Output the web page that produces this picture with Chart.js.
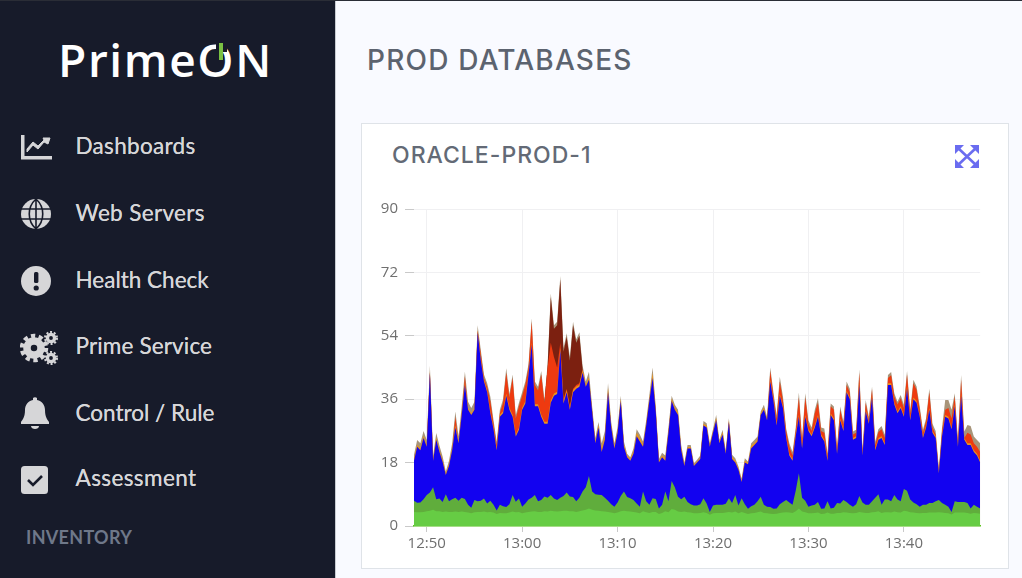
<!DOCTYPE html>
<html><head><meta charset="utf-8">
<script src="https://cdn.jsdelivr.net/npm/chart.js@4/dist/chart.umd.min.js"></script>
<style>
html,body{margin:0;padding:0;width:1022px;height:578px;overflow:hidden;background:#f9faff}
#root{position:absolute;left:0;top:0;width:1022px;height:578px;overflow:hidden;background:#f9faff;filter:blur(.45px)}
#top{position:absolute;left:0;top:0;width:1022px;height:1px;background:#2a2d36;z-index:5}
#side{position:absolute;left:0;top:0;width:336px;height:578px;background:#171b2a;border-right:1px solid #c8ccd2;box-sizing:border-box}
#logo{position:absolute;left:58px;top:29px;font:600 46px "Open Sans",sans-serif;color:#fff;letter-spacing:1.6px;line-height:60px;white-space:nowrap}
#notch{position:absolute;left:215.5px;top:38px;width:11px;height:14px;background:#171b2a}
#bar{position:absolute;left:218.5px;top:43px;width:4.5px;height:17px;background:#7ac143}
.it{position:absolute;left:75.5px;font:400 22.5px Lato,sans-serif;color:#d6d6d8;line-height:30px;white-space:nowrap;text-shadow:0 0 .6px #d6d6d8}
.ic{position:absolute;left:20px;width:34px;height:34px}
#inv{position:absolute;left:26px;top:526px;font:700 18px Lato,sans-serif;color:#6f7889;line-height:22px;letter-spacing:.3px}
#h1{position:absolute;left:367px;top:41px;font:500 28px Inter,sans-serif;color:#5c636f;line-height:38px;white-space:nowrap;letter-spacing:1.2px}
#card{position:absolute;left:361px;top:123px;width:648px;height:446px;background:#fff;border:1px solid #dfe3e8;box-sizing:border-box}
#h2{position:absolute;left:392px;top:139px;font:500 23px Inter,sans-serif;color:#636a76;line-height:32px;white-space:nowrap;letter-spacing:1px}
#exp{position:absolute;left:954px;top:144px;width:26px;height:25px}
#wrap{position:absolute;left:361px;top:190px;width:640px;height:370px}
</style></head><body>
<div id="root">
<div id="top"></div>
<div id="side">
 <div id="logo">PrimeON</div><div id="notch"></div><div id="bar"></div>
 <svg class="ic" style="top:130px" viewBox="0 0 34 34"><path d="M1 5h3.5v21H32v3.5H1z" fill="#d6d6d8"/><path d="M7 22l6-7 5 4 6-7 4 2 2-6-7 0 1 2-6 6-5-4-6 7z" fill="#d6d6d8" stroke="#d6d6d8"/></svg>
 <div class="it" style="top:131px;letter-spacing:.3px">Dashboards</div>
 <svg class="ic" style="top:197px" viewBox="0 0 34 34"><circle cx="16" cy="17" r="15" fill="#d6d6d8"/><path d="M1 12h30M1 22h30M16 2v30M16 2c-9 8-9 22 0 30M16 2c9 8 9 22 0 30" stroke="#171b2a" stroke-width="1.6" fill="none"/></svg>
 <div class="it" style="top:198px;letter-spacing:.35px">Web Servers</div>
 <svg class="ic" style="top:264px" viewBox="0 0 34 34"><circle cx="16" cy="17" r="15" fill="#d6d6d8"/><rect x="14" y="8" width="4.4" height="11" rx="1.5" fill="#171b2a"/><circle cx="16.2" cy="24" r="2.6" fill="#171b2a"/></svg>
 <div class="it" style="top:265px">Health Check</div>
 <svg class="ic" style="top:331px;width:40px" viewBox="0 0 40 34"><circle cx="14" cy="17" r="7" fill="none" stroke="#d6d6d8" stroke-width="7.5"/><circle cx="14" cy="17" r="12" fill="none" stroke="#d6d6d8" stroke-width="4.5" stroke-dasharray="4.2 3.4"/><circle cx="31" cy="7" r="3.6" fill="none" stroke="#d6d6d8" stroke-width="3.4"/><circle cx="31" cy="7" r="6" fill="none" stroke="#d6d6d8" stroke-width="2" stroke-dasharray="2 1.8"/><circle cx="31" cy="27" r="3.6" fill="none" stroke="#d6d6d8" stroke-width="3.4"/><circle cx="31" cy="27" r="6" fill="none" stroke="#d6d6d8" stroke-width="2" stroke-dasharray="2 1.8"/></svg>
 <div class="it" style="top:331px;letter-spacing:.15px">Prime Service</div>
 <svg class="ic" style="top:396px" viewBox="0 0 34 34"><path d="M15 2c1-1 3-1 4 0v2c5 1 8 5 8 10 0 8 3 10 4 12v2H3v-2c1-2 4-4 4-12 0-5 3-9 8-10z" fill="#d6d6d8" transform="translate(-2 0)"/><path d="M11 30h8c0 2-2 3-4 3s-4-1-4-3z" fill="#d6d6d8"/></svg>
 <div class="it" style="top:398px">Control / Rule</div>
 <svg class="ic" style="top:464px" viewBox="0 0 34 34"><rect x="1" y="2" width="27" height="28" rx="3.5" fill="#d6d6d8"/><path d="M8 16l5 5 9-9" stroke="#171b2a" stroke-width="2.6" fill="none"/></svg>
 <div class="it" style="top:463px;letter-spacing:.4px">Assessment</div>
 <div id="inv">INVENTORY</div>
</div>
<div id="h1">PROD DATABASES</div>
<div id="card"></div>
<div id="h2">ORACLE-PROD-1</div>
<svg id="exp" viewBox="0 0 26 25"><g stroke="#6a6cf0" stroke-width="2.6" fill="none"><path d="M4 4l18 17M22 4L4 21"/></g><g fill="#6a6cf0"><path d="M1 1h9l-9 9zM25 1h-9l9 9zM1 24h9l-9-9zM25 24h-9l9-9z"/></g></svg>
<div id="wrap"><canvas id="c" width="640" height="370"></canvas></div>
</div>
<script>
const timeLabels=[
"12:48:40","12:49:00","12:49:20","12:49:40","12:50:00","12:50:20","12:50:40","12:51:00","12:51:20","12:51:40",
"12:52:00","12:52:20","12:52:40","12:53:00","12:53:20","12:53:40","12:54:00","12:54:20","12:54:40","12:55:00",
"12:55:20","12:55:40","12:56:00","12:56:20","12:56:40","12:57:00","12:57:20","12:57:40","12:58:00","12:58:20",
"12:58:40","12:59:00","12:59:20","12:59:40","13:00:00","13:00:20","13:00:40","13:01:00","13:01:20","13:01:40",
"13:02:00","13:02:20","13:02:40","13:03:00","13:03:20","13:03:40","13:04:00","13:04:20","13:04:40","13:05:00",
"13:05:20","13:05:40","13:06:00","13:06:20","13:06:40","13:07:00","13:07:20","13:07:40","13:08:00","13:08:20",
"13:08:40","13:09:00","13:09:20","13:09:40","13:10:00","13:10:20","13:10:40","13:11:00","13:11:20","13:11:40",
"13:12:00","13:12:20","13:12:40","13:13:00","13:13:20","13:13:40","13:14:00","13:14:20","13:14:40","13:15:00",
"13:15:20","13:15:40","13:16:00","13:16:20","13:16:40","13:17:00","13:17:20","13:17:40","13:18:00","13:18:20",
"13:18:40","13:19:00","13:19:20","13:19:40","13:20:00","13:20:20","13:20:40","13:21:00","13:21:20","13:21:40",
"13:22:00","13:22:20","13:22:40","13:23:00","13:23:20","13:23:40","13:24:00","13:24:20","13:24:40","13:25:00",
"13:25:20","13:25:40","13:26:00","13:26:20","13:26:40","13:27:00","13:27:20","13:27:40","13:28:00","13:28:20",
"13:28:40","13:29:00","13:29:20","13:29:40","13:30:00","13:30:20","13:30:40","13:31:00","13:31:20","13:31:40",
"13:32:00","13:32:20","13:32:40","13:33:00","13:33:20","13:33:40","13:34:00","13:34:20","13:34:40","13:35:00",
"13:35:20","13:35:40","13:36:00","13:36:20","13:36:40","13:37:00","13:37:20","13:37:40","13:38:00","13:38:20",
"13:38:40","13:39:00","13:39:20","13:39:40","13:40:00","13:40:20","13:40:40","13:41:00","13:41:20","13:41:40",
"13:42:00","13:42:20","13:42:40","13:43:00","13:43:20","13:43:40","13:44:00","13:44:20","13:44:40","13:45:00",
"13:45:20","13:45:40","13:46:00","13:46:20","13:46:40","13:47:00","13:47:20","13:47:40","13:48:00"];
const xTickLabels=["12:50","13:00","13:10","13:20","13:30","13:40"];
const yTicks=[0,18,36,54,72,90];
const tanTop=[
20.2,24.4,23.5,27,24.4,45.5,20,26.4,22.8,19.7,
15.5,18.5,23.5,32.5,25.5,34,43.8,35.3,33.5,35.3,
57,50,43,40.5,36.7,30,24,33,36,44.8,
37.5,43,31.5,35,38,41,46,59,41,39.5,
44,36,46,66,57,58,71,50.5,54.7,48,
58,53,55,45.5,41,43.8,34,25,29.5,23.5,
27,40.5,29.5,23.5,28,37,24,20.5,19.5,22,
27.5,26,24,30,37.2,45,34,19,20.8,20,
28,37,34.4,33,23,18,23,23,17.8,18.8,
20,29.8,29.2,23.5,27.5,31.5,24.4,27.3,21.6,30.6,
20.2,19.2,16.9,13.5,19.2,18.3,23.5,24.4,25.4,32.5,
34.4,31,45,38,31.5,42.4,36.7,27.7,23.5,21,
28,37.9,24.9,37.7,30,28,33,36.3,28,27.7,
20.6,34.8,33.9,22.5,33.9,29.6,41,39,26.8,27.3,
44.5,21.6,35.8,31,39.6,24,27.5,28.4,25.9,42.9,
43.7,37.7,35.3,37.2,34.4,44,33,41.5,39.6,33.9,
27.3,30.6,39,29,27,16.4,28,35.8,35.8,33,
37.7,24.4,42.9,26.8,28.7,28.4,25.4,24.4,23.5];
const brownTop=[
0,0,0,0,0,0,0,0,0,0,
0,0,0,0,0,0,0,0,0,0,
0,0,0,0,0,0,0,0,0,0,
0,0,0,0,0,0,0,0,0,0,
0,35,45,65,56,57,70,49.5,53.7,47,
57,52,54,44.5,0,0,0,0,0,0,
0,0,0,0,0,0,0,0,0,0,
0,0,0,0,0,0,0,0,0,0,
0,0,0,0,0,0,0,0,0,0,
0,0,0,0,0,0,0,0,0,0,
0,0,0,0,0,0,0,0,0,0,
0,0,0,0,0,0,0,0,0,0,
0,0,0,0,0,0,0,0,0,0,
0,0,0,0,0,0,0,0,0,0,
0,0,0,0,0,0,0,0,0,0,
0,0,0,0,0,0,0,0,0,0,
0,0,0,0,0,0,0,0,0,0,
0,0,0,0,0,0,0,0,0];
const redTop=[
18.5,22.5,21.5,25,22.5,43.5,18.5,24.5,21,18.2,
14.5,17,21.5,31,23.5,31.5,42.5,33,31.5,33,
55.5,49,42,39.5,35.5,29,23,32,35,43.5,
36.5,42,30.5,34,37,40,45,58,40,38.5,
43,35,45,52,48,45,52,36,39,34,
39,40,40.5,44.5,39.5,41.5,32.5,23.5,28,21,
24.5,38,28,22,26.5,35.5,22.5,19.5,18.5,20.5,
25.5,24,22.5,28.5,35.5,42,32.5,18,19.5,18.5,
26.5,35.5,33,31.5,21.5,17,22,22,17,18,
19,28.5,28,22.5,26.5,30,23.5,26,20.5,29.5,
19,18,16,12.5,18,17.5,22,23,24,31.5,
33,30,44,37,30.5,41,35.5,27,22.5,20,
27,36.5,24,36.5,29,27,32,35,27,26.5,
19.8,34,33,21.7,33,28.8,40,38,26,26.5,
43.5,20.8,35,30,38.8,23,26.7,27.5,25,42,
42.8,36.8,34.5,36.3,33.5,43,32,40.5,38.7,33,
26.5,29.8,38,28,26,15.5,27,33,33.5,30.5,
36.8,23.5,41.5,25,26.5,26,23.5,22.5,21];
const orangeTop=[
19.1,23.1,22.1,25.6,23.1,44,19.1,25.1,21.6,18.8,
15,17.6,22.1,28.6,24.1,32.1,40.6,33.6,32.1,33.6,
55.6,47.6,41.6,38.6,32.6,28.1,22.1,31.6,32.6,37.6,
33.6,31.6,26,27.9,33.6,35.4,43.6,52.1,34.6,34.6,
31.6,29.6,29.6,35.6,37.6,38.1,50.6,35.4,38.6,33.6,
38.6,39.6,40.1,44.3,40.2,42.2,33.2,24.2,28.7,22.2,
25.7,39.2,28.7,22.7,27.2,36.2,23.2,20,19,21.2,
26.5,25,23.2,29.2,36.2,43.5,33.2,18.5,20,19.2,
27.2,36.2,33.7,32.2,22.2,17.4,22.4,22.4,17.3,18.3,
19.4,29,28.5,23,27,30.7,24,26.7,21,30,
19.6,18.6,16.4,13,18.6,17.9,22.8,23.6,24.6,32,
33.6,30.4,41.5,36,29,37.5,34,25.5,20.5,19,
26,31.5,22.5,31.5,27.5,26,28.5,31.5,26,24.5,
19,32,30.5,21,30.5,27.5,38.5,36.5,25,25.5,
40.5,20.5,33,29.5,37,22,25,25.5,23.5,40.5,
40.5,35,32.5,34,31.5,39.5,30.5,36.5,35.5,31.5,
25.5,28.5,33.5,27,25.5,15.4,26,31.5,31,28,
34.5,23,37.5,25,23.5,23.5,21.5,20.5,18.5];
const blueTop=[
18.5,22.5,21.5,25,22.5,43.5,18.5,24.5,21,18.2,
14.5,17,21.5,28,23.5,31.5,40,33,31.5,33,
55,47,41,38,32,27.5,21.5,31,32,37,
33,31,25.4,27.3,33,34.8,43,51.5,34,34,
31,29,29,35,37,37.5,50,34.8,38,33,
38,39,39.5,43.5,39.5,41.5,32.5,23.5,28,21,
24.5,38,28,22,26.5,35.5,22.5,19.5,18.5,20.5,
25.5,24,22.5,28.5,35.5,42,32.5,18,19.5,18.5,
26.5,35.5,33,31.5,21.5,17,22,22,17,18,
19,28.5,28,22.5,26.5,30,23.5,26,20.5,29.5,
19,18,16,12.5,18,17.5,22,23,24,31.5,
33,30,41,35.5,28.5,37,33.5,25,20,18.5,
25.5,31,22,31,27,25.5,28,31,25.5,24,
18.5,31.5,30,20.5,30,27,38,36,24.5,25,
40,20,32.5,29,36.5,21.5,24.5,25,23,40,
40,34.5,32,33.5,31,39,30,36,35,31,
25,28,33,26.5,25,15,25.5,31,30.5,27.5,
34,22.5,37,24.5,23,23,21,20,18];
const darkGreenTop=[
7.2,6.6,6.7,7.6,8.8,9.5,11,7.6,7.8,6.8,
9,7,7.6,8,7.2,8,7.7,6,5.2,7.4,
7,7.2,7.8,6.4,7.2,6,4.4,6,5.6,5.4,
6.2,8.8,6.9,7.8,5.5,6.4,7.5,8,8.8,7,
7.4,8.4,8,8.8,7.8,7.4,8,8.5,9.5,8.4,
8.2,7,8,9.8,11,14.2,9.8,9,8.9,8.8,
8,7.2,6.2,5.5,6.7,8.5,9.8,8.2,7.9,7.4,
6.4,5.5,9.8,7,6,7.9,7.7,5,6,9.8,
7,12.8,11,8.3,7.6,8.3,6.8,6.2,5.8,5.8,
6.2,7.9,6.4,4,5.8,6,6,6,6.3,7.9,
6.5,8.8,5.8,7.9,6.2,4.9,5.6,6,7,8.3,
6,5.5,5.4,4.9,5,6.2,6.8,7.4,6.7,6,
10,15,8,7.2,5.5,5.8,6,6.8,4.9,5,
7,5,5.2,6.5,6.4,7.4,6.8,6,5.5,6.2,
8.5,6.7,6,6,7,8,9,6,7.5,7.5,
7,8.8,7.5,7,10.5,10,7.5,6.7,6.2,5.5,
6,6,6.5,6.5,7,7.4,6.5,6,5.5,4,
7,6.8,6.8,6.8,6.5,5,6,5.5,5];
const lightGreenTop=[
4,3.9,3.9,4,4.2,4.3,4.6,4.2,4.2,4,
4.1,4,4,4.1,4,4.1,4,3.8,3.6,3.9,
4,4,4.1,3.9,4,3.8,3.4,3.7,3.6,3.6,
3.8,4.1,3.9,4,3.6,3.8,4,4.1,4.2,4,
4,4.2,4.1,4.3,4.2,4.1,4.2,4.3,4.3,4.2,
4.2,4,4.2,4.4,4.6,5,4.6,4.4,4.3,4.2,
4.1,4,3.8,3.6,3.8,4.2,4.3,4.2,4.1,4,
3.8,3.6,4.2,3.9,3.7,4,4,3.4,3.7,4.2,
3.9,4.8,4.6,4.1,4,4.1,3.9,3.8,3.6,3.6,
3.7,3.9,3.7,3.2,3.6,3.7,3.7,3.7,3.8,4,
3.8,4.1,3.6,4,3.7,3.4,3.6,3.7,3.9,4.1,
3.7,3.6,3.5,3.4,3.5,3.7,3.8,3.9,3.8,3.7,
4.2,5,4.1,3.9,3.6,3.6,3.7,3.8,3.4,3.5,
3.8,3.5,3.5,3.7,3.7,3.9,3.8,3.7,3.6,3.7,
4,3.8,3.7,3.7,3.9,4,4.2,3.7,3.9,3.9,
3.8,4.1,3.9,3.8,4.3,4.2,3.9,3.8,3.7,3.6,
3.7,3.7,3.8,3.8,3.8,3.9,3.8,3.7,3.6,3.3,
3.8,3.8,3.8,3.8,3.7,3.5,3.7,3.6,3.5];

const layers=[
 {name:"Light green",data:lightGreenTop,color:"#66cc44"},
 {name:"Dark green",data:darkGreenTop,color:"#60ad3c"},
 {name:"Blue",data:blueTop,color:"#1202f0"},
 {name:"Orange",data:orangeTop,color:"#e8941c"},
 {name:"Red",data:redTop,color:"#ee3a10"},
 {name:"Brown",data:brownTop,color:"#7c2010"},
 {name:"Tan",data:tanTop,color:"#a8957a"}
];
new Chart(document.getElementById("c"),{
 type:"line",
 data:{labels:timeLabels,datasets:layers.map(l=>({label:l.name,data:l.data,backgroundColor:l.color,borderColor:l.color,borderWidth:0,pointRadius:0,tension:0,fill:"origin"}))},
 options:{
  responsive:false,animation:false,
  layout:{autoPadding:false,padding:{top:19,right:20.8,left:0,bottom:0}},
  plugins:{legend:{display:false},tooltip:{enabled:false}},
  scales:{
   x:{type:"category",
    afterBuildTicks(s){s.ticks=s.ticks.filter(t=>{const l=timeLabels[t.value];return l.endsWith(":00")&&xTickLabels.includes(l.slice(0,5));});},
    afterFit(s){s.height=34;},
    grid:{color:"#f0f0f2",lineWidth:1,tickColor:"#c9c9c9",tickLength:6},
    border:{color:"#5cc81c",width:1.5},
    ticks:{autoSkip:false,maxRotation:0,padding:3,color:"#6f6f6f",font:{family:"'Open Sans'",size:15},callback(v){return timeLabels[v].slice(0,5);}}
   },
   y:{min:0,max:90,
    afterBuildTicks(s){s.ticks=yTicks.map(v=>({value:v}));},
    afterFit(s){s.width=53;},
    grid:{color:"#f0f0f2",lineWidth:1,tickColor:"#c9c9c9",tickLength:9},
    border:{display:false},
    ticks:{padding:7,color:"#6f6f6f",font:{family:"'Open Sans'",size:15}}
   }
  }
 }
});
</script>
</body></html>
